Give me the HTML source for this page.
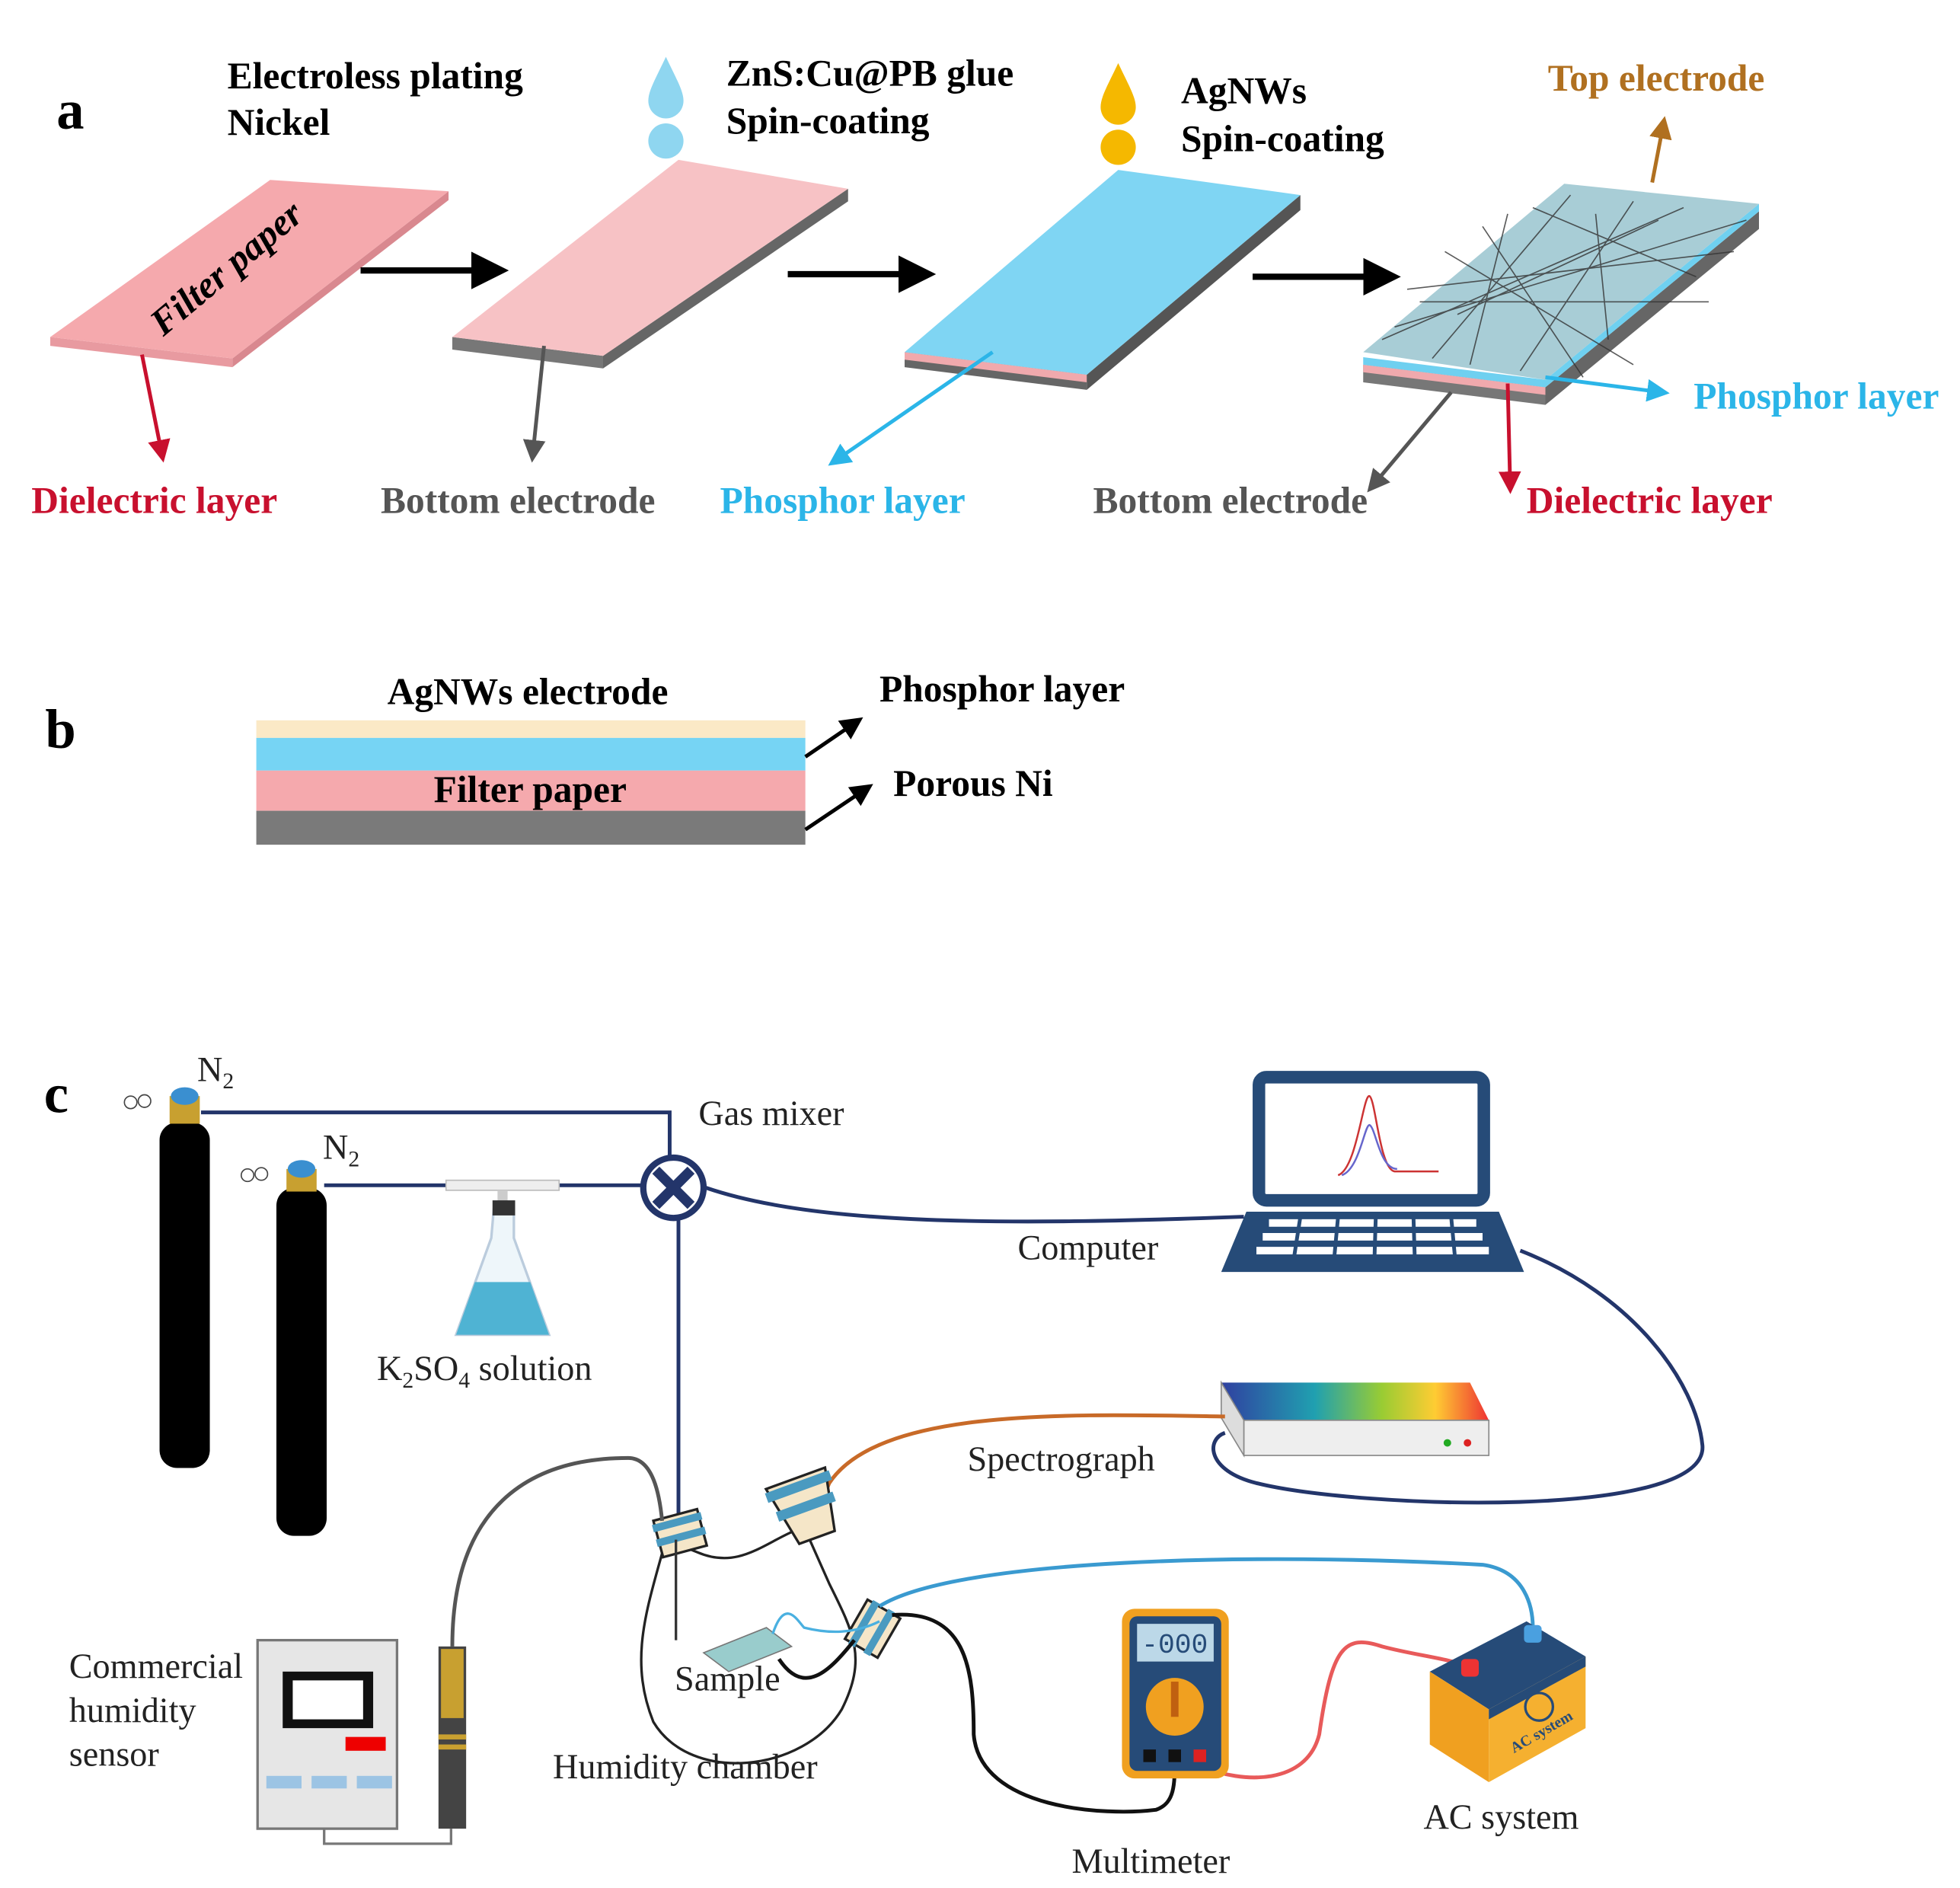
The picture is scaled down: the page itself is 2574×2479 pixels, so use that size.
<!DOCTYPE html>
<html><head><meta charset="utf-8"><style>
html,body{margin:0;padding:0;background:#fff;}
svg{display:block;}
.b{font-family:"Liberation Serif",serif;font-weight:bold;font-size:30px;}
.r{font-family:"Liberation Serif",serif;font-size:28px;fill:#222;}
</style></head><body>
<svg width="2574" height="2479" viewBox="0 0 1560 1502" xmlns="http://www.w3.org/2000/svg">
<defs>
<marker id="ak" markerWidth="6" markerHeight="6" refX="4" refY="3" orient="auto"><path d="M0,0L6,3L0,6z" fill="#000"/></marker>
<marker id="ar" markerWidth="6" markerHeight="6" refX="4" refY="3" orient="auto"><path d="M0,0L6,3L0,6z" fill="#c8102e"/></marker>
<marker id="ag" markerWidth="6" markerHeight="6" refX="4" refY="3" orient="auto"><path d="M0,0L6,3L0,6z" fill="#555"/></marker>
<marker id="ab" markerWidth="6" markerHeight="6" refX="4" refY="3" orient="auto"><path d="M0,0L6,3L0,6z" fill="#2bb5e8"/></marker>
<marker id="ao" markerWidth="6" markerHeight="6" refX="4" refY="3" orient="auto"><path d="M0,0L6,3L0,6z" fill="#b07020"/></marker>
<linearGradient id="rb" x1="0" x2="1"><stop offset="0" stop-color="#3040a0"/><stop offset=".35" stop-color="#20a0b0"/><stop offset=".6" stop-color="#9c3"/><stop offset=".8" stop-color="#fc3"/><stop offset="1" stop-color="#e33"/></linearGradient>
</defs>

<!-- Part a -->
<text x="45" y="102" class="b" style="font-size:44px">a</text>
<text x="181" y="70" class="b">Electroless plating</text>
<text x="181" y="107" class="b">Nickel</text>
<text x="578" y="68" class="b">ZnS:Cu@PB glue</text>
<text x="578" y="106" class="b">Spin-coating</text>
<text x="940" y="82" class="b">AgNWs</text>
<text x="940" y="120" class="b">Spin-coating</text>
<text x="1232" y="72" class="b" fill="#b07020">Top electrode</text>

<!-- slab1 -->
<polygon points="40,268 185,285 185,292 40,275" fill="#e89aa0"/>
<polygon points="185,285 357,152 357,159 185,292" fill="#d9888f"/>
<polygon points="40,268 215,143 357,152 185,285" fill="#f5a9ad"/>
<text x="0" y="0" class="b" font-style="italic" font-size="28" transform="translate(130,268) rotate(-40)">Filter paper</text>
<!-- slab2 -->
<polygon points="360,268 480,283 480,293 360,278" fill="#777"/>
<polygon points="480,283 675,150 675,160 480,293" fill="#666"/>
<polygon points="360,268 540,127 675,150 480,283" fill="#f7c2c5"/>
<!-- slab3 -->
<polygon points="720,280 865,298 865,310 720,292" fill="#666"/>
<polygon points="720,280 865,298 865,304 720,286" fill="#f0a9ad"/>
<polygon points="865,298 1035,155 1035,167 865,310" fill="#555"/>
<polygon points="720,280 890,135 1035,155 865,298" fill="#7fd5f3"/>
<!-- slab4 -->
<polygon points="1085,290 1230,308 1230,322 1085,304" fill="#777"/>
<polygon points="1085,290 1230,308 1230,314 1085,296" fill="#f0a9ad"/>
<polygon points="1230,308 1400,168 1400,182 1230,322" fill="#666"/>
<polygon points="1085,284 1230,302 1400,162 1400,168 1230,308 1085,290" fill="#6fd0f0"/>
<polygon points="1085,280 1245,146 1400,162 1230,302" fill="#a8cdd6"/>
<g stroke="#333" stroke-width="1" opacity=".8">
<line x1="1100" y1="270" x2="1340" y2="165"/><line x1="1120" y1="230" x2="1380" y2="200"/>
<line x1="1150" y1="200" x2="1300" y2="290"/><line x1="1180" y1="180" x2="1260" y2="300"/>
<line x1="1110" y1="260" x2="1390" y2="175"/><line x1="1200" y1="170" x2="1170" y2="290"/>
<line x1="1250" y1="155" x2="1140" y2="285"/><line x1="1300" y1="160" x2="1210" y2="295"/>
<line x1="1130" y1="240" x2="1360" y2="240"/><line x1="1220" y1="165" x2="1350" y2="220"/>
<line x1="1160" y1="250" x2="1320" y2="175"/><line x1="1270" y1="170" x2="1280" y2="270"/>
</g>

<!-- drops -->
<path d="M530,45 C522,62 516,72 516,80 A14,14 0 0 0 544,80 C544,72 538,62 530,45z" fill="#8fd6f0"/>
<circle cx="530" cy="112" r="14" fill="#8fd6f0"/>
<path d="M890,50 C882,67 876,77 876,85 A14,14 0 0 0 904,85 C904,77 898,67 890,50z" fill="#f5b800"/>
<circle cx="890" cy="117" r="14" fill="#f5b800"/>

<!-- process arrows -->
<line x1="287" y1="215" x2="395" y2="215" stroke="#000" stroke-width="5" marker-end="url(#ak)"/>
<line x1="627" y1="218" x2="735" y2="218" stroke="#000" stroke-width="5" marker-end="url(#ak)"/>
<line x1="997" y1="220" x2="1105" y2="220" stroke="#000" stroke-width="5" marker-end="url(#ak)"/>

<line x1="113" y1="282" x2="129" y2="362" stroke="#c8102e" stroke-width="3" marker-end="url(#ar)"/>
<line x1="433" y1="275" x2="424" y2="362" stroke="#555" stroke-width="3" marker-end="url(#ag)"/>
<line x1="790" y1="280" x2="664" y2="367" stroke="#2bb5e8" stroke-width="3" marker-end="url(#ab)"/>
<line x1="1155" y1="312" x2="1092" y2="387" stroke="#555" stroke-width="3" marker-end="url(#ag)"/>
<line x1="1200" y1="305" x2="1202" y2="387" stroke="#c8102e" stroke-width="3" marker-end="url(#ar)"/>
<line x1="1230" y1="300" x2="1323" y2="312" stroke="#2bb5e8" stroke-width="3" marker-end="url(#ab)"/>
<line x1="1315" y1="145" x2="1324" y2="98" stroke="#b07020" stroke-width="3" marker-end="url(#ao)"/>

<text x="25" y="408" class="b" fill="#c8102e">Dielectric layer</text>
<text x="303" y="408" class="b" fill="#555">Bottom electrode</text>
<text x="573" y="408" class="b" fill="#2bb5e8">Phosphor layer</text>
<text x="870" y="408" class="b" fill="#555">Bottom electrode</text>
<text x="1215" y="408" class="b" fill="#c8102e">Dielectric layer</text>
<text x="1348" y="325" class="b" fill="#2bb5e8">Phosphor layer</text>

<!-- Part b -->
<text x="36" y="595" class="b" style="font-size:44px">b</text>
<rect x="204" y="573" width="437" height="14" fill="#fbe9c6"/>
<rect x="204" y="587" width="437" height="26" fill="#76d4f4"/>
<rect x="204" y="613" width="437" height="32" fill="#f5a9ad"/>
<rect x="204" y="645" width="437" height="27" fill="#7a7a7a"/>
<text x="420" y="560" class="b" text-anchor="middle">AgNWs electrode</text>
<text x="422" y="638" class="b" text-anchor="middle">Filter paper</text>
<line x1="641" y1="602" x2="682" y2="574" stroke="#000" stroke-width="3" marker-end="url(#ak)"/>
<line x1="641" y1="660" x2="690" y2="627" stroke="#000" stroke-width="3" marker-end="url(#ak)"/>
<text x="700" y="558" class="b">Phosphor layer</text>
<text x="711" y="633" class="b">Porous Ni</text>

<!-- Part c -->
<text x="35" y="885" class="b" style="font-size:44px">c</text>
<!-- cylinders -->
<rect x="127" y="893" width="40" height="275" rx="14" fill="#000"/>
<rect x="135" y="872" width="24" height="22" fill="#c8a030"/>
<ellipse cx="147" cy="872" rx="11" ry="7" fill="#3a8fd0"/>
<circle cx="115" cy="876" r="5" fill="none" stroke="#444"/><circle cx="104" cy="877" r="5" fill="none" stroke="#444"/>
<rect x="220" y="945" width="40" height="277" rx="14" fill="#000"/>
<rect x="228" y="930" width="24" height="18" fill="#c8a030"/>
<ellipse cx="240" cy="930" rx="11" ry="7" fill="#3a8fd0"/>
<circle cx="208" cy="934" r="5" fill="none" stroke="#444"/><circle cx="197" cy="935" r="5" fill="none" stroke="#444"/>
<text x="157" y="860" class="r">N<tspan font-size="18" dy="6">2</tspan></text>
<text x="257" y="922" class="r">N<tspan font-size="18" dy="6">2</tspan></text>

<g fill="none" stroke="#23356a" stroke-width="3">
<path d="M160,885 H533 V920"/>
<path d="M258,943 H511"/>
<path d="M540,970 V1215"/>
<path d="M562,945 C650,975 800,975 990,968"/>
<path d="M1210,995 C1300,1030 1350,1100 1355,1150 C1360,1210 1080,1200 1000,1180 C960,1170 960,1145 975,1140"/>
</g>
<rect x="355" y="939" width="90" height="8" fill="#eee" stroke="#bbb"/>
<rect x="396" y="947" width="8" height="15" fill="#ccc"/>
<!-- flask -->
<path d="M393,962 H409 V985 L437,1062 H363 L391,985z" fill="#eef6fa" stroke="#bcd" stroke-width="2"/>
<path d="M378,1020 H422 L437,1062 H363z" fill="#4fb3d3"/>
<rect x="392" y="955" width="18" height="12" fill="#333"/>
<text x="300" y="1098" class="r">K<tspan font-size="18" dy="6">2</tspan><tspan dy="-6">SO</tspan><tspan font-size="18" dy="6">4</tspan><tspan dy="-6"> solution</tspan></text>

<!-- gas mixer -->
<circle cx="536" cy="945" r="24" fill="#fff" stroke="#23356a" stroke-width="5"/>
<path d="M522,931 L550,959 M550,931 L522,959" stroke="#23356a" stroke-width="8"/>
<text x="556" y="895" class="r">Gas mixer</text>

<!-- laptop -->
<rect x="1002" y="857" width="179" height="98" rx="6" fill="#fff" stroke="#264b78" stroke-width="10"/>
<path d="M1065,935 C1080,930 1085,870 1090,872 C1095,875 1098,930 1110,932 L1145,932" fill="none" stroke="#c33" stroke-width="1.5"/>
<path d="M1068,935 C1082,930 1086,895 1090,895 C1095,897 1098,930 1112,930" fill="none" stroke="#66c" stroke-width="1.5"/>
<polygon points="992,964 1193,964 1213,1012 972,1012" fill="#264b78"/>
<g fill="#fff">
<rect x="1010" y="970" width="165" height="6"/><rect x="1005" y="981" width="175" height="6"/><rect x="1000" y="992" width="185" height="6"/>
</g>
<g stroke="#264b78" stroke-width="3">
<line x1="1035" y1="968" x2="1030" y2="1000"/><line x1="1065" y1="968" x2="1062" y2="1000"/><line x1="1095" y1="968" x2="1094" y2="1000"/><line x1="1125" y1="968" x2="1126" y2="1000"/><line x1="1155" y1="968" x2="1158" y2="1000"/>
</g>
<text x="810" y="1002" class="r">Computer</text>

<!-- spectrograph -->
<polygon points="972,1100 1170,1100 1185,1130 990,1130" fill="url(#rb)"/>
<rect x="990" y="1130" width="195" height="28" fill="#eee" stroke="#888"/>
<polygon points="972,1100 990,1130 990,1158 972,1128" fill="#ddd" stroke="#888"/>
<circle cx="1152" cy="1148" r="3" fill="#2a2"/><circle cx="1168" cy="1148" r="3" fill="#d22"/>
<path d="M975,1127 C850,1125 700,1120 660,1180 C640,1230 615,1280 605,1310" fill="none" stroke="#c86a28" stroke-width="3"/>
<text x="770" y="1170" class="r">Spectrograph</text>

<!-- humidity chamber -->
<path d="M530,1225 C515,1280 500,1320 520,1370 C550,1420 640,1410 670,1360 C690,1320 680,1300 660,1260 L640,1215 C610,1225 590,1250 555,1235z" fill="#fff" stroke="#222" stroke-width="2"/>
<g transform="rotate(-15 540 1215)"><rect x="522" y="1205" width="36" height="30" fill="#f5e6c8" stroke="#222" stroke-width="2"/><rect x="520" y="1208" width="40" height="6" fill="#4a9ac0"/><rect x="520" y="1220" width="40" height="6" fill="#4a9ac0"/></g>
<g transform="rotate(-20 640 1195)"><path d="M615,1175 H665 L655,1225 H625z" fill="#f5e6c8" stroke="#222" stroke-width="2"/><rect x="613" y="1178" width="54" height="8" fill="#4a9ac0"/><rect x="616" y="1195" width="48" height="8" fill="#4a9ac0"/></g>
<g transform="rotate(30 695 1295)"><rect x="680" y="1278" width="30" height="36" fill="#f5e6c8" stroke="#222" stroke-width="2"/><rect x="684" y="1276" width="6" height="40" fill="#4a9ac0"/><rect x="698" y="1276" width="6" height="40" fill="#4a9ac0"/></g>
<line x1="538" y1="1225" x2="538" y2="1305" stroke="#333" stroke-width="2"/>
<polygon points="560,1315 610,1295 630,1310 580,1330" fill="#9cc" stroke="#777"/>
<path d="M615,1300 C625,1270 635,1290 640,1295 C660,1300 680,1300 700,1290" fill="none" stroke="#4ab0e0" stroke-width="2"/>
<text x="537" y="1345" class="r">Sample</text>
<text x="440" y="1415" class="r">Humidity chamber</text>

<!-- sensor cable -->
<path d="M360,1310 C360,1200 420,1160 500,1160 C520,1160 525,1190 527,1210" fill="none" stroke="#555" stroke-width="3"/>
<rect x="349" y="1310" width="22" height="145" fill="#444"/>
<rect x="351" y="1312" width="18" height="55" fill="#c8a030"/>
<rect x="349" y="1380" width="22" height="4" fill="#c8a030"/><rect x="349" y="1388" width="22" height="4" fill="#c8a030"/>
<rect x="205" y="1305" width="111" height="150" fill="#e6e6e6" stroke="#777" stroke-width="2"/>
<rect x="225" y="1330" width="72" height="45" fill="#111"/>
<rect x="233" y="1337" width="56" height="31" fill="#fff"/>
<rect x="275" y="1382" width="32" height="11" fill="#e00"/>
<rect x="212" y="1413" width="28" height="10" fill="#9cc4e4"/><rect x="248" y="1413" width="28" height="10" fill="#9cc4e4"/><rect x="284" y="1413" width="28" height="10" fill="#9cc4e4"/>
<path d="M258,1455 V1467 H359 V1455" fill="none" stroke="#777" stroke-width="2"/>
<text x="55" y="1335" class="r">Commercial</text>
<text x="55" y="1370" class="r">humidity</text>
<text x="55" y="1405" class="r">sensor</text>

<!-- cables to meter/battery -->
<path d="M700,1278 C760,1240 1000,1235 1180,1245 C1215,1250 1220,1280 1220,1295" fill="none" stroke="#3a9ad0" stroke-width="3"/>
<path d="M710,1285 C770,1280 775,1330 775,1380 C780,1440 880,1445 920,1440 C935,1435 935,1420 935,1400" fill="none" stroke="#111" stroke-width="3"/>
<path d="M620,1320 C640,1350 660,1330 680,1305" fill="none" stroke="#111" stroke-width="3"/>
<path d="M955,1405 C990,1420 1040,1420 1050,1380 C1060,1310 1070,1300 1100,1310 C1130,1318 1160,1320 1170,1328" fill="none" stroke="#e85a5a" stroke-width="3"/>

<!-- multimeter -->
<rect x="893" y="1280" width="85" height="135" rx="10" fill="#f0a020"/>
<rect x="899" y="1286" width="73" height="123" rx="6" fill="#264b78"/>
<rect x="905" y="1292" width="61" height="30" fill="#bcd8e8"/>
<text x="935" y="1315" font-family="Liberation Mono,monospace" font-size="22" text-anchor="middle" fill="#264b78">-000</text>
<circle cx="935" cy="1358" r="23" fill="#f0a020"/>
<rect x="932" y="1338" width="6" height="28" fill="#c06010"/>
<rect x="910" y="1392" width="10" height="10" fill="#111"/><rect x="930" y="1392" width="10" height="10" fill="#111"/><rect x="950" y="1392" width="10" height="10" fill="#d22"/>
<text x="853" y="1490" class="r">Multimeter</text>

<!-- battery -->
<polygon points="1138,1330 1215,1290 1262,1318 1185,1360" fill="#264b78"/>
<polygon points="1138,1330 1185,1360 1185,1418 1138,1388" fill="#f0a020"/>
<polygon points="1185,1360 1262,1318 1262,1375 1185,1418" fill="#f5b030"/>
<polygon points="1185,1360 1262,1318 1262,1326 1185,1368" fill="#264b78"/>
<rect x="1163" y="1320" width="14" height="14" rx="3" fill="#e33"/>
<rect x="1213" y="1293" width="14" height="14" rx="3" fill="#4aa0e0"/>
<circle cx="1225" cy="1358" r="11" fill="none" stroke="#264b78" stroke-width="2"/>
<text x="0" y="0" font-family="Liberation Serif,serif" font-size="12" font-weight="bold" fill="#264b78" transform="translate(1205,1395) rotate(-30)">AC system</text>
<text x="1133" y="1455" class="r">AC system</text>
</svg>
</body></html>
